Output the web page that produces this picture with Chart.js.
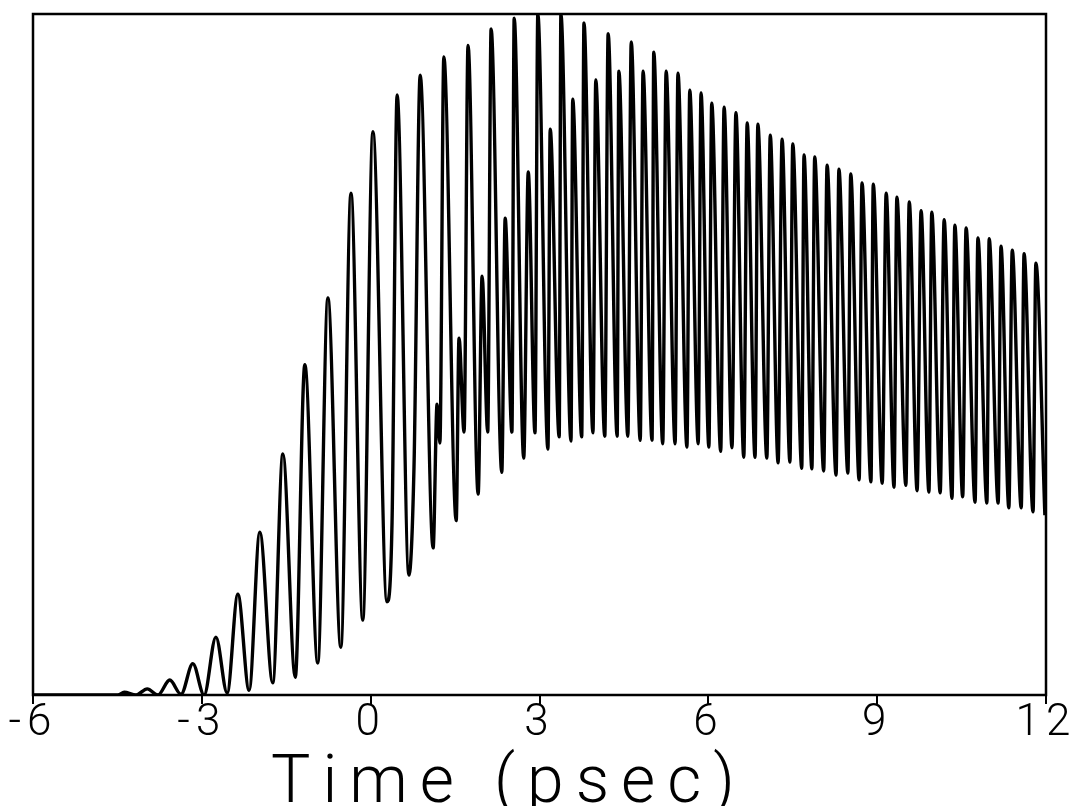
<!DOCTYPE html>
<html>
<head>
<meta charset="utf-8">
<title>Time (psec)</title>
<script src="https://cdn.jsdelivr.net/npm/chart.js@4.4.1/dist/chart.umd.min.js"></script>
<style>
  html, body { margin: 0; padding: 0; background: #fff; }
  #wrap { width: 1074px; height: 806px; }
</style>
</head>
<body>
<div id="wrap"><canvas id="traceChart"></canvas></div>
<script>
// Turning points of the trace.
// Time in psec, signal in arbitrary units (0 = baseline, 100 = top of frame).

// build-up: single train of pulses
const onsetTime = [
  -6.00, -4.63, -4.49, -4.38, -4.17, -3.97, -3.78, -3.57, -3.37, -3.16,
  -2.96, -2.75, -2.55, -2.36, -2.16, -1.97, -1.74, -1.56, -1.34, -1.17,
  -0.94, -0.76, -0.53, -0.35, -0.14, 0.04, 0.29
];
const onsetSignal = [
  0, 0, 0, 0.4, 0, 0.9, 0, 2.2, 0.1, 4.6,
  0, 8.5, 0.3, 14.8, 0.7, 23.9, 1.8, 35.4, 2.6, 48.5,
  4.7, 58.3, 7.0, 73.7, 11.0, 82.7, 13.7
];

// splitting: a second pulse grows between the main ones
const splitTime = [
  0.38, 0.47, 0.68, 0.77, 0.88, 1.11, 1.18, 1.23, 1.30, 1.52,
  1.57, 1.66, 1.73, 1.91, 1.98, 2.08, 2.14, 2.33, 2.39, 2.51,
  2.55, 2.72, 2.80, 2.92, 2.97, 3.15, 3.19, 3.35, 3.38, 3.56,
  3.59, 3.75, 3.79
];
const splitSignal = [
  25.4, 88.1, 17.6, 33.5, 91.0, 21.6, 42.7, 37.0, 93.7, 25.6,
  52.4, 38.6, 95.4, 29.5, 61.5, 38.6, 97.8, 32.7, 70.0, 38.6,
  99.4, 34.8, 76.8, 38.5, 100, 36.1, 83.1, 37.9, 100, 37.3,
  87.5, 37.9, 98.7
];

// slow decay of the doubled pulse train
const decayTime = [
  3.95, 4.00, 4.16, 4.22, 4.38, 4.41, 4.57, 4.63, 4.79, 4.84,
  5.00, 5.03, 5.19, 5.25, 5.41, 5.46, 5.62, 5.67, 5.82, 5.87,
  6.01, 6.06, 6.22, 6.28, 6.42, 6.49, 6.63, 6.69, 6.83, 6.88,
  7.04, 7.10, 7.24, 7.31, 7.45, 7.50, 7.66, 7.70, 7.84, 7.89,
  8.05, 8.11, 8.27, 8.32, 8.48, 8.53, 8.68, 8.73, 8.89, 8.93,
  9.09, 9.16, 9.30, 9.35, 9.51, 9.57, 9.71, 9.78, 9.92, 9.97,
  10.12, 10.19, 10.33, 10.38, 10.52, 10.58, 10.74, 10.79, 10.95, 10.99,
  11.15, 11.20, 11.34, 11.40, 11.56, 11.61, 11.77, 11.82, 11.98
];
const decaySignal = [
  38.5, 90.3, 38.0, 97.1, 38.0, 91.6, 38.0, 95.9, 37.4, 91.6,
  37.4, 94.4, 36.9, 91.6, 36.9, 91.3, 36.4, 88.8, 36.9, 88.4,
  36.4, 86.9, 35.8, 86.3, 36.3, 85.5, 34.9, 84.0, 34.9, 83.8,
  34.8, 82.2, 34.1, 81.6, 34.2, 80.9, 33.3, 79.3, 33.2, 79.0,
  32.9, 77.8, 32.3, 77.2, 32.6, 76.5, 31.6, 75.2, 31.3, 75.0,
  31.1, 73.7, 30.5, 73.1, 30.8, 72.4, 30.0, 71.1, 29.8, 70.9,
  29.7, 69.8, 28.9, 69.0, 29.1, 68.6, 28.3, 67.1, 28.2, 67.0,
  28.2, 65.9, 27.5, 65.3, 27.5, 64.8, 26.9, 63.4, 26.4
];

const tickValues = [-6, -3, 0, 3, 6, 9, 12];
const tickLabels = ['-6', '-3', '0', '3', '6', '9', '12'];
const xTitle = 'Time (psec)';

const times = onsetTime.concat(splitTime, decayTime);
const signal = onsetSignal.concat(splitSignal, decaySignal);
const points = times.map((t, i) => ({ x: t, y: signal[i] }));

// box round the plot area
const frame = {
  id: 'frame',
  afterDatasetsDraw(chart) {
    const { ctx, chartArea } = chart;
    ctx.save();
    ctx.strokeStyle = '#000';
    ctx.lineWidth = 2.5;
    ctx.strokeRect(chartArea.left, chartArea.top,
      chartArea.right - chartArea.left, chartArea.bottom - chartArea.top);
    ctx.restore();
  }
};

// plotter-like wide letter spacing for the tick labels
const spacing = {
  id: 'spacing',
  beforeLayout(chart) { chart.ctx.letterSpacing = '6px'; },
  beforeDraw(chart) { chart.ctx.letterSpacing = '6px'; },
  afterDraw(chart) { chart.ctx.letterSpacing = '0px'; }
};

// axis caption, sits a bit left of the axis centre like the original
const caption = {
  id: 'caption',
  afterDraw(chart) {
    const { ctx, chartArea } = chart;
    ctx.save();
    ctx.font = '300 66px Roboto, "DejaVu Sans", sans-serif';
    ctx.letterSpacing = '12px';
    ctx.fillStyle = '#000';
    ctx.textAlign = 'left';
    ctx.textBaseline = 'alphabetic';
    ctx.fillText(xTitle, chartArea.left + 238, chartArea.bottom + 107);
    ctx.restore();
  }
};

new Chart(document.getElementById('traceChart'), {
  type: 'line',
  data: {
    datasets: [{
      data: points,
      borderColor: '#000',
      borderWidth: 3.4,
      pointRadius: 0,
      fill: false,
      cubicInterpolationMode: 'monotone'
    }]
  },
  options: {
    responsive: true,
    maintainAspectRatio: false,
    animation: false,
    layout: { padding: { left: 33, right: 28, top: 14, bottom: 0 } },
    plugins: {
      legend: { display: false },
      tooltip: { enabled: false }
    },
    scales: {
      x: {
        type: 'linear',
        min: -6,
        max: 12,
        afterBuildTicks: (scale) => { scale.ticks = tickValues.map(v => ({ value: v })); },
        afterFit: (scale) => {
          scale.height = 111;
          scale.paddingLeft = 0;
          scale.paddingRight = 0;
        },
        ticks: {
          color: '#000',
          padding: -6,
          font: { family: 'Roboto, "DejaVu Sans", sans-serif', size: 44, weight: '300' },
          callback: (v) => tickLabels[tickValues.indexOf(v)]
        },
        grid: {
          display: true,
          drawOnChartArea: false,
          drawTicks: true,
          tickLength: 9,
          color: '#000',
          lineWidth: 2
        },
        border: { display: false }
      },
      y: {
        display: false,
        min: 0,
        max: 100
      }
    }
  },
  plugins: [spacing, frame, caption]
});
</script>
</body>
</html>
